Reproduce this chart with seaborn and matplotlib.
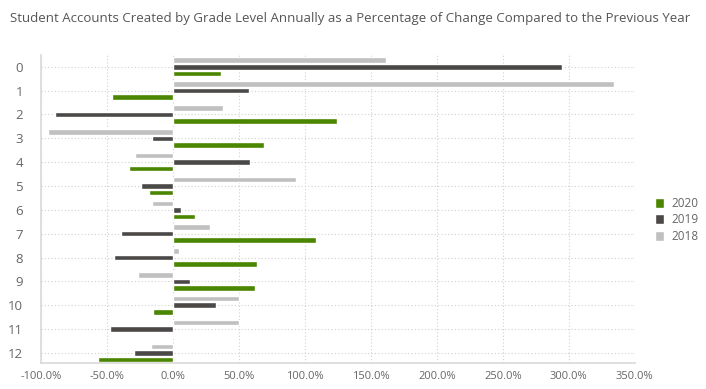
import pandas as pd
import numpy as np
import matplotlib
matplotlib.use("Agg")
import matplotlib.pyplot as plt
import seaborn as sns
from matplotlib.patches import Patch
from matplotlib.ticker import FuncFormatter, MultipleLocator

# grade levels 0..12, percent change vs previous year
grades = [str(g) for g in range(13)]
years = ["2018", "2019", "2020"]
pct_2018 = [161.5, 334.0, 37.9, -94.7, -28.8, 93.0, -15.8, 27.8, 4.7, -26.3, 49.8, 49.8, -16.4]
pct_2019 = [294.7, 57.5, -89.6, -15.8, 58.7, -24.0, 6.0, -39.2, -44.8, 13.3, 32.6, -47.6, -29.8]
pct_2020 = [36.7, -46.0, 124.0, 68.9, -33.1, -17.9, 16.9, 108.4, 63.5, 62.0, -15.4, 0.0, -57.0]

colors = {"2020": "#4a8600", "2019": "#4b4848", "2018": "#c0c0c0"}

df = pd.DataFrame({
    "grade": grades * 3,
    "year": ["2018"] * 13 + ["2019"] * 13 + ["2020"] * 13,
    "pct": pct_2018 + pct_2019 + pct_2020,
})

sns.set_style("white")
plt.rcParams["font.family"] = ["Open Sans", "DejaVu Sans"]

fig = plt.figure(figsize=(7.06, 3.89), dpi=100)
ax = fig.add_axes([0.058, 0.067, 0.841, 0.792])

sns.barplot(data=df, x="pct", y="grade", hue="year", hue_order=years,
            order=grades, palette=colors, orient="h", width=0.82, gap=0.15,
            errorbar=None, legend=False, ax=ax, saturation=1)

ax.set_xlim(-100, 350)
ax.set_ylim(12.42, -0.5)
ax.xaxis.set_major_locator(MultipleLocator(50))
ax.xaxis.set_major_formatter(FuncFormatter(lambda v, _: f"{v:.1f}%"))
ax.set_xlabel("")
ax.set_ylabel("")

ax.grid(True, axis="both", linestyle=(0, (1, 2)), color="#d0d0d0", linewidth=0.8)
ax.set_axisbelow(True)
for s in ["top", "right"]:
    ax.spines[s].set_visible(False)
for s in ["left", "bottom"]:
    ax.spines[s].set_color("#d9d9d9")
    ax.spines[s].set_linewidth(1.2)

ax.tick_params(axis="x", labelsize=8, colors="#666666", length=0, pad=6)
ax.tick_params(axis="y", labelsize=9.5, colors="#666666", length=0, pad=13)

handles = [Patch(facecolor=colors[y], label=y) for y in ["2020", "2019", "2018"]]
fig.legend(handles=handles, loc="center left", bbox_to_anchor=(0.913, 0.435),
           frameon=False, fontsize=8.5, labelcolor="#666666",
           handlelength=0.75, handleheight=0.9, handletextpad=0.6, labelspacing=0.3)

fig.text(0.014, 0.953, "Student Accounts Created by Grade Level Annually as a Percentage of Change Compared to the Previous Year",
         fontsize=9.5, color="#555555", va="center", ha="left")

fig.savefig("out.png", dpi=100)
plt.close(fig)
